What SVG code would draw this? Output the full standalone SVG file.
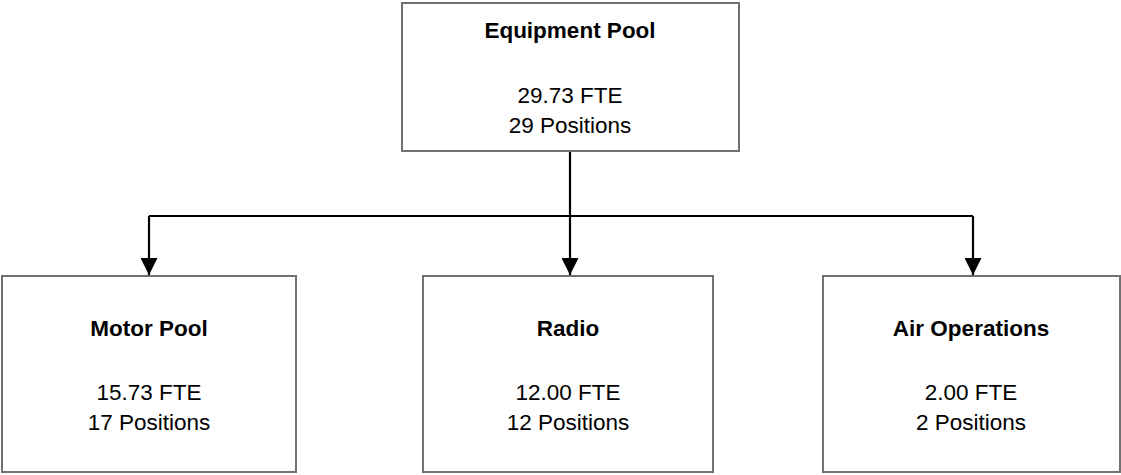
<svg xmlns="http://www.w3.org/2000/svg" width="1121" height="475" viewBox="0 0 1121 475">
<defs>
<style>
.box{fill:#fff;stroke:#707070;stroke-width:2}
.t{font-family:"Liberation Sans",Arial,sans-serif;font-size:22.5px;fill:#000;text-anchor:middle}
.b{font-weight:bold}
.c{fill:none;stroke:#000;stroke-width:2.2}
</style>
<marker id="ah" markerUnits="userSpaceOnUse" markerWidth="18" markerHeight="17" refX="17" refY="8.5" orient="auto">
<path d="M0,0 L17,8.5 L0,17 Z" fill="#000"/>
</marker>
</defs>
<rect width="1121" height="475" fill="#fff"/>
<g id="connectors">
<path class="c" d="M570,151 V275" marker-end="url(#ah)"/>
<path class="c" d="M149,216 H973"/>
<path class="c" d="M149,216 V275" marker-end="url(#ah)"/>
<path class="c" d="M973,216 V275" marker-end="url(#ah)"/>
</g>
<g id="equipment-pool">
<rect class="box" x="402" y="3" width="337" height="148"/>
<text class="t b" x="570" y="38">Equipment Pool</text>
<text class="t" x="570" y="103">29.73 FTE</text>
<text class="t" x="570" y="133">29 Positions</text>
</g>
<g id="motor-pool">
<rect class="box" x="2" y="276" width="294" height="196"/>
<text class="t b" x="149" y="336">Motor Pool</text>
<text class="t" x="149" y="400">15.73 FTE</text>
<text class="t" x="149" y="430">17 Positions</text>
</g>
<g id="radio">
<rect class="box" x="423" y="276" width="290" height="196"/>
<text class="t b" x="568" y="336">Radio</text>
<text class="t" x="568" y="400">12.00 FTE</text>
<text class="t" x="568" y="430">12 Positions</text>
</g>
<g id="air-operations">
<rect class="box" x="823" y="276" width="297" height="196"/>
<text class="t b" x="971" y="336">Air Operations</text>
<text class="t" x="971" y="400">2.00 FTE</text>
<text class="t" x="971" y="430">2 Positions</text>
</g>
</svg>
